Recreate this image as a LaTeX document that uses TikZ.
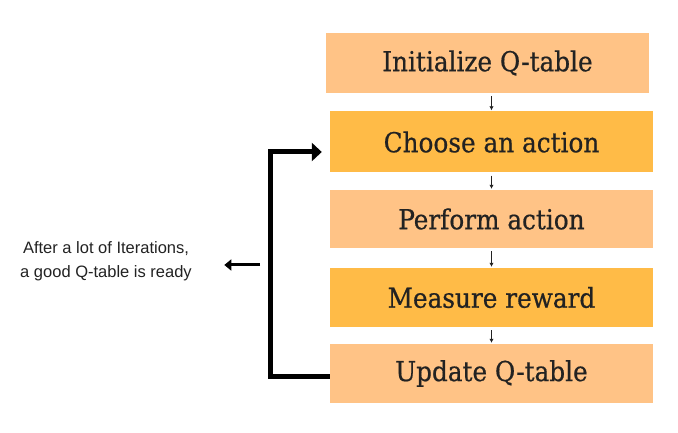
\documentclass[tikz,border=0pt]{standalone}
\usepackage{fontspec}
\setmainfont{Liberation Sans}
\newfontfamily\boxfont[FakeBold=0.6]{DejaVu Serif Condensed}
\usetikzlibrary{arrows.meta,positioning}
\definecolor{lightorange}{HTML}{FFC386}
\definecolor{darkorange}{HTML}{FFBB47}
\definecolor{inkgray}{HTML}{222222}
\tikzset{
  stepbox/.style={minimum width=323pt,minimum height=59pt,inner sep=0pt,
    text=inkgray,font=\boxfont\fontsize{27.5}{30}\selectfont},
  smallarrow/.style={-{Latex[length=4pt,width=4.5pt]},line width=1.5pt,draw=inkgray},
  looparrow/.style={-{Triangle[length=10pt,width=18pt]},line width=5pt,line join=miter},
}
\begin{document}
\begin{tikzpicture}[x=1pt,y=1pt]
\useasboundingbox (0,0) rectangle (678,433);
% steps of the loop
\node[stepbox,fill=lightorange,minimum height=60pt] (init) at (487.5,370) {Initialize Q-table};
\node[stepbox,fill=darkorange,minimum height=61pt] (choose) at (491.5,291) {Choose an action};
\node[stepbox,fill=lightorange,minimum height=58pt] (perform) at (491.5,214) {Perform action};
\node[stepbox,fill=darkorange] (measure) at (491.5,135.5) {Measure reward};
\node[stepbox,fill=lightorange] (update) at (491.5,59.5) {Update Q-table};
\draw[smallarrow,shorten <=3pt,shorten >=1pt] (choose.north |- init.south) -- (choose.north);
\draw[smallarrow,shorten <=3pt,shorten >=1pt] (choose.south) -- (perform.north);
\draw[smallarrow,shorten <=3pt,shorten >=1pt] (perform.south) -- (measure.north);
\draw[smallarrow,shorten <=3pt,shorten >=1pt] (measure.south) -- (update.north);
% feedback loop
\coordinate (back) at (270,0);
\coordinate (tip) at ([xshift=-8pt,yshift=-10pt]choose.west);
\draw[looparrow] ([yshift=-3pt]update.west) -- ([yshift=-3pt]update.west -| back) |- (tip);
% result
\node[align=center,text=inkgray,font=\fontsize{16.5}{24}\selectfont] (note) at (106,172)
  {After a lot of Iterations,\\a good Q-table is ready};
\coordinate (out) at (260,168);
\draw[-{Triangle[length=7pt,width=11pt]},line width=3pt,shorten >=29pt] (out) -- (out -| note.east);
\end{tikzpicture}
\end{document}
